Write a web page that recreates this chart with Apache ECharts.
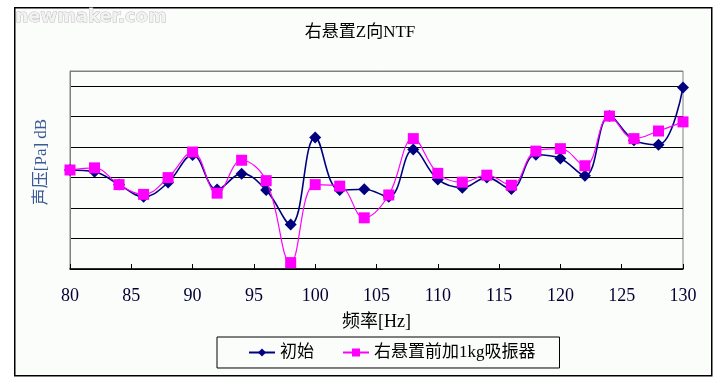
<!DOCTYPE html>
<html><head><meta charset="utf-8">
<script src="https://cdn.jsdelivr.net/npm/echarts@6/dist/echarts.min.js"></script>
<style>html,body{margin:0;padding:0;background:#fff}#c{width:720px;height:387px}</style>
</head><body><div id="c"></div>
<script>
var freq = [80,82,84,86,88,90,92,94,96,98,100,102,104,106,108,110,112,114,116,118,120,122,124,126,128,130];
var initial = [3.25,3.19,2.77,2.37,2.84,3.74,2.61,3.13,2.59,1.46,4.32,2.59,2.62,2.37,3.92,2.94,2.67,3.0,2.63,3.75,3.63,3.06,5.02,4.23,4.08,5.96];
var absorber = [3.25,3.32,2.77,2.45,3.0,3.84,2.49,3.57,2.9,0.21,2.77,2.72,1.68,2.43,4.28,3.14,2.85,3.08,2.75,3.87,3.95,3.39,5.02,4.28,4.53,4.83];
var xTicks = [80,85,90,95,100,105,110,115,120,125,130];
var seriesNames = ['初始','右悬置前加1kg吸振器'];
var titleText = '右悬置Z向NTF';
var xName = '频率[Hz]';
var yName = '声压[Pa] dB';

function pairs(v){ return freq.map(function(f,i){ return [f, v[i]]; }); }
var serif = "'Liberation Serif','Noto Sans CJK SC',serif";
var chart = echarts.init(document.getElementById('c'), null, {renderer:'canvas'});
chart.setOption({
  animation:false,
  backgroundColor:'#ffffff',
  graphic:[
    {type:'rect', left:14, top:7, shape:{width:697, height:368}, style:{fill:'#fbfdfb', stroke:'#000', lineWidth:1.5}, z:-10},
    {type:'text', left:15, top:8, style:{text:'newmaker.com', font:"bold 18px 'DejaVu Sans', sans-serif", fill:'#f2f2f2', stroke:'#bdbdbd', lineWidth:1}, z:10},
    {type:'text', x:42, y:162, rotation:Math.PI/2, style:{text:yName, font:"17px 'Liberation Serif','Noto Sans CJK SC',serif", fill:'#3b5a97', align:'center', verticalAlign:'middle'}, z:10}
  ],
  title:{text:titleText, left:'center', top:19, textStyle:{fontFamily:serif, fontSize:17, fontWeight:'normal', color:'#000'}},
  grid:{left:70, right:37, top:71, bottom:118, show:true, borderColor:'#808080', borderWidth:1, backgroundColor:'transparent'},
  legend:{
    left:217, top:337, itemGap:28,
    padding:[7,24,7,31],
    borderColor:'#000', borderWidth:1, backgroundColor:'#fbfdfb',
    itemWidth:26, itemHeight:10,
    textStyle:{fontFamily:serif, fontSize:17, color:'#000'},
    data:seriesNames
  },
  xAxis:{
    type:'value', min:80, max:130, interval:5,
    name:xName, nameLocation:'middle', nameGap:44,
    nameTextStyle:{fontFamily:serif, fontSize:18, color:'#000'},
    axisLine:{lineStyle:{color:'#000', width:1.5}},
    axisTick:{inside:true, length:5, lineStyle:{color:'#000'}},
    axisLabel:{fontFamily:serif, fontSize:18, color:'#000033', margin:18,
      formatter:function(v){ return xTicks.indexOf(v)>=0 ? String(v) : ''; }},
    splitLine:{show:false}
  },
  yAxis:{
    type:'value', min:0, max:6.5, interval:1,
    axisLine:{show:true, lineStyle:{color:'#808080'}},
    axisTick:{show:false},
    axisLabel:{show:false},
    splitLine:{show:true, lineStyle:{color:['#000','#000','#000','#000','#000','#000','#000','#808080'], width:1.2}}
  },
  series:[
    {name:seriesNames[0], type:'line', data:pairs(initial), smooth:0.4,
     symbol:'diamond', symbolSize:12, itemStyle:{color:'#000080'},
     lineStyle:{color:'#000080', width:1.6}, z:3},
    {name:seriesNames[1], type:'line', data:pairs(absorber), smooth:0.4,
     symbol:'rect', symbolSize:11, itemStyle:{color:'#ff00ff'},
     lineStyle:{color:'#ff00ff', width:1.2}, z:4}
  ]
});
</script></body></html>
